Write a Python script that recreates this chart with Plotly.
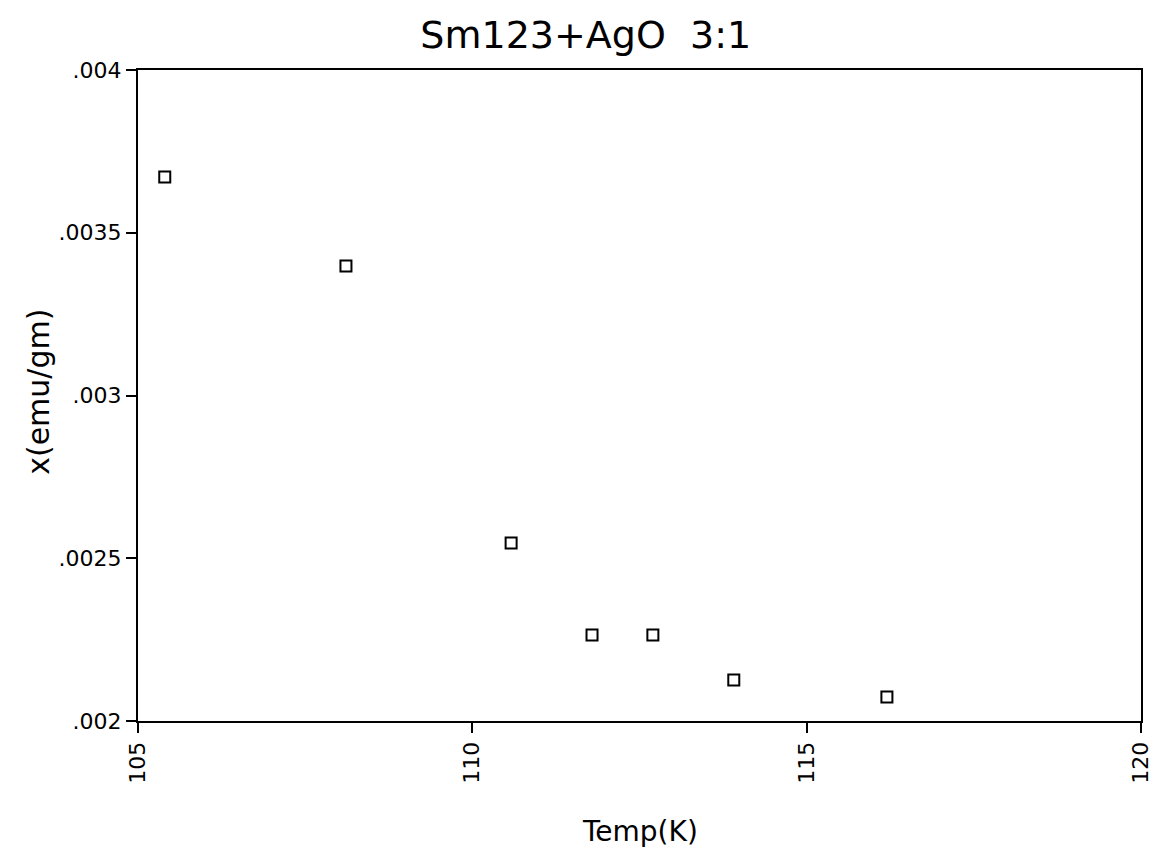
import plotly.graph_objects as go

temp_k = [105.40, 108.11, 110.58, 111.79, 112.70, 113.91, 116.20]
chi_emu_gm = [0.003671, 0.003398, 0.002547, 0.002264, 0.002264, 0.002126, 0.002074]

x_tickvals = [105, 110, 115, 120]
x_ticktext = ["105", "110", "115", "120"]
y_tickvals = [0.002, 0.0025, 0.003, 0.0035, 0.004]
y_ticktext = [".002", ".0025", ".003", ".0035", ".004"]

fig = go.Figure()
fig.add_trace(go.Scatter(
    x=temp_k, y=chi_emu_gm, mode="markers",
    marker=dict(symbol="square-open", size=11, color="black", line=dict(width=2, color="black")),
    showlegend=False,
))

font = "DejaVu Sans"
fig.update_layout(
    template="none",
    width=1151, height=851,
    paper_bgcolor="white", plot_bgcolor="white",
    margin=dict(l=130, r=18, t=62, b=138, pad=0),
    title=dict(text="Sm123+AgO  3:1", x=0.502, xanchor="center", y=0.969, yanchor="middle",
               font=dict(family=font, size=38, color="black")),
    font=dict(family=font, color="black", size=20),
    annotations=[
        dict(text="Temp(K)", xref="paper", yref="paper", x=0.5005, y=-0.17,
             xanchor="center", yanchor="middle", showarrow=False,
             font=dict(family=font, size=28, color="black")),
        dict(text="x(emu/gm)", xref="paper", yref="paper", x=-0.0995, y=0.506,
             xanchor="center", yanchor="middle", showarrow=False, textangle=-90,
             font=dict(family=font, size=30, color="black")),
    ],
)
fig.update_xaxes(
    range=[105, 120], tickvals=x_tickvals, ticktext=x_ticktext, tickangle=-90,
    showgrid=False, zeroline=False, showline=True, linecolor="black", linewidth=2,
    mirror=True, ticks="outside", ticklen=10, tickwidth=2, tickcolor="black",
    tickfont=dict(family=font, size=22, color="black"), automargin=False,
)
fig.update_yaxes(
    range=[0.002, 0.004], tickvals=y_tickvals, ticktext=y_ticktext,
    showgrid=False, zeroline=False, showline=True, linecolor="black", linewidth=2,
    mirror=True, ticks="outside", ticklen=10, tickwidth=2, tickcolor="black",
    tickfont=dict(family=font, size=22, color="black"), automargin=False,
)

fig.write_html("out.html")
